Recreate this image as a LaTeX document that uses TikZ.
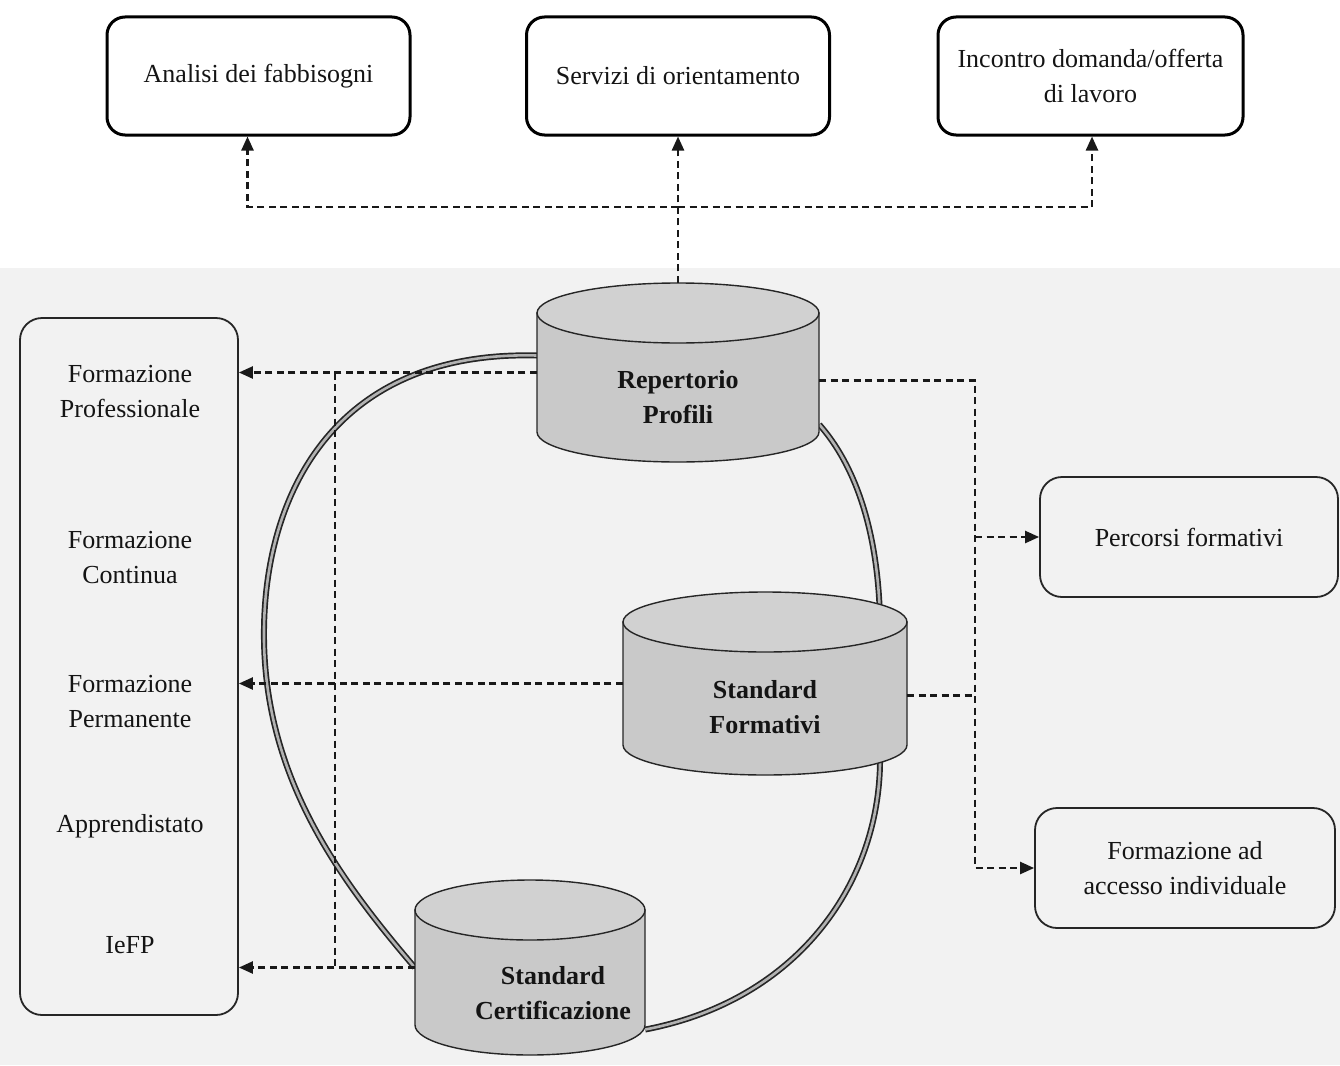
\documentclass[tikz,border=0pt]{standalone}
\usepackage{fontspec}
\setmainfont{Liberation Serif}
\usetikzlibrary{arrows.meta,calc}
\pgfdeclarelayer{back}
\pgfdeclarelayer{mid}
\pgfsetlayers{back,mid,main}
\newcommand\cylshape[5]{%
  \filldraw[cyl] ({#1-#4},{-#2}) -- ({#1-#4},{-#3}) arc[start angle=180,end angle=360,x radius=#4pt,y radius=#5pt] -- ({#1+#4},{-#2}) -- cycle;
  \filldraw[cyltop] (#1,{-#2}) ellipse[x radius=#4pt, y radius=#5pt];}
\begin{document}
\begin{tikzpicture}[x=1pt,y=1pt,
  every node/.style={font=\fontsize{26}{35}\selectfont, align=center, inner sep=0pt, text=black!92},
  topbox/.style={draw, line width=3pt, rounded corners=18pt, minimum width=303pt, minimum height=118pt},
  sidebox/.style={draw=black!85, line width=1.8pt, rounded corners=22pt},
  dl/.style={line width=2.4pt, dash pattern=on 7pt off 4.5pt, draw=black!90},
  arr/.style={-{Triangle[length=14pt,width=12pt]}},
  ring/.style={draw=black!85, line width=1.7pt, double=gray!60, double distance=2.6pt},
  cyl/.style={fill=gray!42, draw=black!85, line width=1.4pt},
  cyltop/.style={fill=gray!36, draw=black!85, line width=1.4pt},
  hidden/.style={draw=none}
]
\useasboundingbox (0,0) rectangle (1340,-1065);

% --- top boxes
\node[topbox] (s1) at (258.5,-76) {Analisi dei fabbisogni};
\node[topbox] (s2) at (678,-76) {Servizi di orientamento};
\node[topbox, minimum width=305pt] (s3) at (1090.5,-76) {Incontro domanda/offerta\\di lavoro};

% --- left box and texts
\node[sidebox, minimum width=218pt, minimum height=697pt] (lb) at (129,-666.5) {};
\node (t1) at (130,-392) {Formazione\\Professionale};
\node (t2) at (130,-558) {Formazione\\Continua};
\node (t3) at (130,-702) {Formazione\\Permanente};
\node (t4) at (130,-826) {Apprendistato};
\node (t5) at (130,-945) {IeFP};

% --- right boxes
\node[sidebox, minimum width=298pt, minimum height=120pt] (pf) at (1189,-537) {Percorsi formativi};
\node[sidebox, minimum width=300pt, minimum height=120pt] (fa) at (1185,-868) {Formazione ad\\accesso individuale};

% --- cylinder bodies (anchors)
\node[hidden, minimum width=282pt, minimum height=179pt] (rep) at (678,-372.5) {};
\node[hidden, minimum width=284pt, minimum height=183pt] (sf) at (765,-683.5) {};
\node[hidden, minimum width=230pt, minimum height=175pt] (sc) at (530,-967.5) {};

\begin{pgfonlayer}{back}
  \fill[black!5] (0,-268) rectangle (1340,-1065);
  \draw[ring] ([yshift=17]rep.west) .. controls (330,-350) and (262,-500) .. (264,-640)
              .. controls (266,-780) and (340,-880) .. (sc.west);
  \draw[ring] ([yshift=-52]rep.east) .. controls (855,-465) and (878,-530) .. ([xshift=115,yshift=-28]sf.north);
  \draw[ring] ([xshift=115,yshift=-163]sf.north) .. controls (882,-880) and (800,-1000) .. ([yshift=-62]sc.east);
\end{pgfonlayer}

\begin{pgfonlayer}{mid}
  \cylshape{678}{313}{432}{141}{30}
  \cylshape{765}{622}{745}{142}{30}
  \cylshape{530}{910}{1025}{115}{30}
\end{pgfonlayer}

\node[font=\fontsize{26}{35}\selectfont\bfseries] (rept) at (678,-397) {Repertorio\\Profili};
\node[font=\fontsize{26}{35}\selectfont\bfseries] (sft) at (765,-707) {Standard\\Formativi};
\node[font=\fontsize{26}{35}\selectfont\bfseries] (sct) at (553,-993) {Standard\\Certificazione};

% --- top connectors
\coordinate (hub) at (678,-207);
\draw[dl, arr] (rep.north) -- (s2.south);
\draw[dl, arr] (hub) -| ([xshift=-11]s1.south);
\draw[dl, arr] (hub) -| ([xshift=1.5]s3.south);

% --- left connectors
\coordinate (vx) at (335,0);
\draw[dl, arr] (rep.west) -- (lb.east |- rep.west);
\draw[dl, arr] (sf.west) -- (lb.east |- sf.west);
\draw[dl, arr] (sc.west) -- (lb.east |- sc.west);
\draw[dl] (rep.west -| vx) -- (sc.west -| vx);

% --- right connectors
\coordinate (rx) at (975,0);
\coordinate (sfr) at ([yshift=-12]sf.east);
\draw[dl, arr] ([yshift=-8]rep.east) -| (rx |- fa.west) -- (fa.west);
\draw[dl, arr] (rx |- pf.west) -- (pf.west);
\draw[dl] (sfr) -- (rx |- sfr);
\end{tikzpicture}
\end{document}
